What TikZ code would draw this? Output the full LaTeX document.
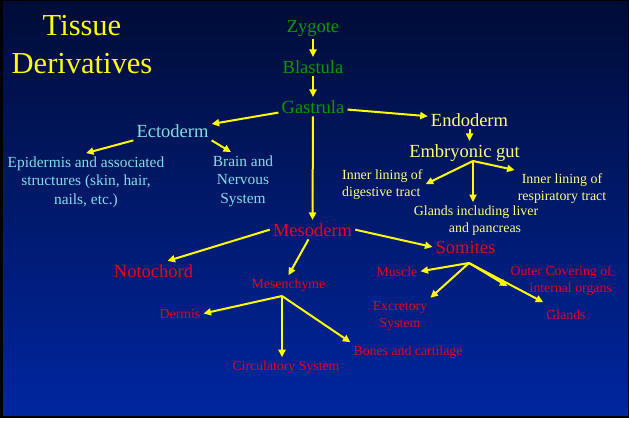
\documentclass[tikz,border=0pt]{standalone}
\usepackage{fontspec}
\setmainfont{Liberation Serif}
\usetikzlibrary{arrows.meta}
\definecolor{slidetop}{RGB}{0,12,55}
\definecolor{slidebottom}{RGB}{0,38,160}
\definecolor{titleyellow}{RGB}{255,255,0}
\definecolor{stagegreen}{RGB}{0,155,0}
\definecolor{ectocyan}{RGB}{130,220,230}
\definecolor{endoyellow}{RGB}{255,255,120}
\definecolor{mesored}{RGB}{232,0,30}
\definecolor{arrowyellow}{RGB}{255,255,0}

\begin{document}
\begin{tikzpicture}[x=1pt,y=-1pt,every node/.style={inner sep=3pt},big/.style={font=\fontsize{18.5}{22}\selectfont,anchor=base},small/.style={font=\fontsize{14}{18}\selectfont,anchor=base,align=center},stage/.style={big,text=stagegreen},ectoB/.style={big,text=ectocyan},ectoS/.style={small,text=ectocyan,font=\fontsize{15.4}{18.5}\selectfont},endoB/.style={big,text=endoyellow},endoS/.style={small,text=endoyellow,font=\fontsize{13.9}{17}\selectfont},mesoB/.style={big,text=mesored},mesoS/.style={small,text=mesored,font=\fontsize{13.8}{17}\selectfont},link/.style={draw=arrowyellow,line width=2pt,-{Triangle[length=7.5pt,width=7pt]}},fork/.style={link}]
\useasboundingbox (0,0) rectangle (629,423);
\fill[white] (0,0) rectangle (629,423);
\fill[black] (0,0) rectangle (629,418);
\shade[top color=slidetop,bottom color=slidebottom] (3,1) rectangle (628,415);

\node[font=\fontsize{30.5}{38}\selectfont,text=titleyellow,align=center,anchor=base] (title) at (82,73) {Tissue\\Derivatives};

\node[stage] (zygote) at (313,32) {Zygote};
\node[stage] (blastula) at (313,73) {Blastula};
\node[stage] (gastrula) at (313,113) {Gastrula};
\draw[link] (zygote) -- (blastula);
\draw[link] (blastula) -- (gastrula);

\node[ectoB] (ectoderm) at (172.5,137) {Ectoderm};
\draw[link] (gastrula) -- (ectoderm);
\node[ectoS] (epidermis) at (86,204) {Epidermis and associated\\structures (skin, hair,\\nails, etc.)};
\draw[link] (ectoderm.south west) -- (epidermis.north);
\node[ectoS] (brain) at (243,203) {Brain and\\Nervous\\System};
\draw[link] (ectoderm.south east) -- ([xshift=-12pt]brain.north);

\node[endoB] (endoderm) at (469.5,126) {Endoderm};
\draw[link] (gastrula) -- (endoderm);
\node[endoB] (gut) at (464.5,157) {Embryonic gut};
\draw[link] (endoderm.south) -- (endoderm.south |- gut.north);
\coordinate (gutfork) at (473,161);
\node[endoS,align=left,anchor=base west] (digestive) at (339,196) {Inner lining of\\digestive tract};
\draw[fork] (gutfork) -- (digestive.east);
\node[endoS] (glands) at (476,232) {Glands including liver\\\hspace*{18pt}and pancreas};
\draw[fork] (gutfork) -- (gutfork |- glands.north);
\node[endoS] (respiratory) at (562,200) {Inner lining of\\respiratory tract};
\draw[fork] (gutfork) -- (respiratory.north west);

\node[mesoB] (mesoderm) at (312.5,236) {Mesoderm};
\draw[link] (gastrula) -- (mesoderm);
\node[mesoB] (notochord) at (153.5,277) {Notochord};
\draw[link] (mesoderm.west) -- ([xshift=14pt]notochord.north);
\node[mesoS] (mesenchyme) at (288.5,288) {Mesenchyme};
\draw[link] ([xshift=-4pt]mesoderm.south) -- (mesenchyme.north);
\node[mesoB] (somites) at (465.5,253) {Somites};
\draw[link] (mesoderm.east) -- (somites.west);

\coordinate (mesfork) at (282,296);
\node[mesoS] (dermis) at (180,318) {Dermis};
\draw[fork] (mesfork) -- (dermis.east);
\node[mesoS] (circulatory) at (286,370) {Circulatory System};
\draw[fork] (mesfork) -- (mesfork |- circulatory.north);
\node[mesoS] (bones) at (408,355) {Bones and cartilage};
\draw[fork] (mesfork) -- (bones.north west);

\coordinate (somfork) at (469,263);
\node[mesoS] (muscle) at (397,276) {Muscle};
\draw[fork] (somfork) -- (muscle.east);
\node[mesoS,align=right,anchor=base east] (outer) at (615,292) {Outer Covering of\\internal organs};
\draw[fork] (somfork) -- ([yshift=-6pt]outer.west);
\node[mesoS] (excretory) at (400,327) {Excretory\\System};
\draw[fork] (somfork) -- (excretory.north east);
\node[mesoS] (glandsS) at (566,319) {Glands};
\draw[fork] (somfork) -- ([yshift=4pt]glandsS.north west);
\end{tikzpicture}
\end{document}
